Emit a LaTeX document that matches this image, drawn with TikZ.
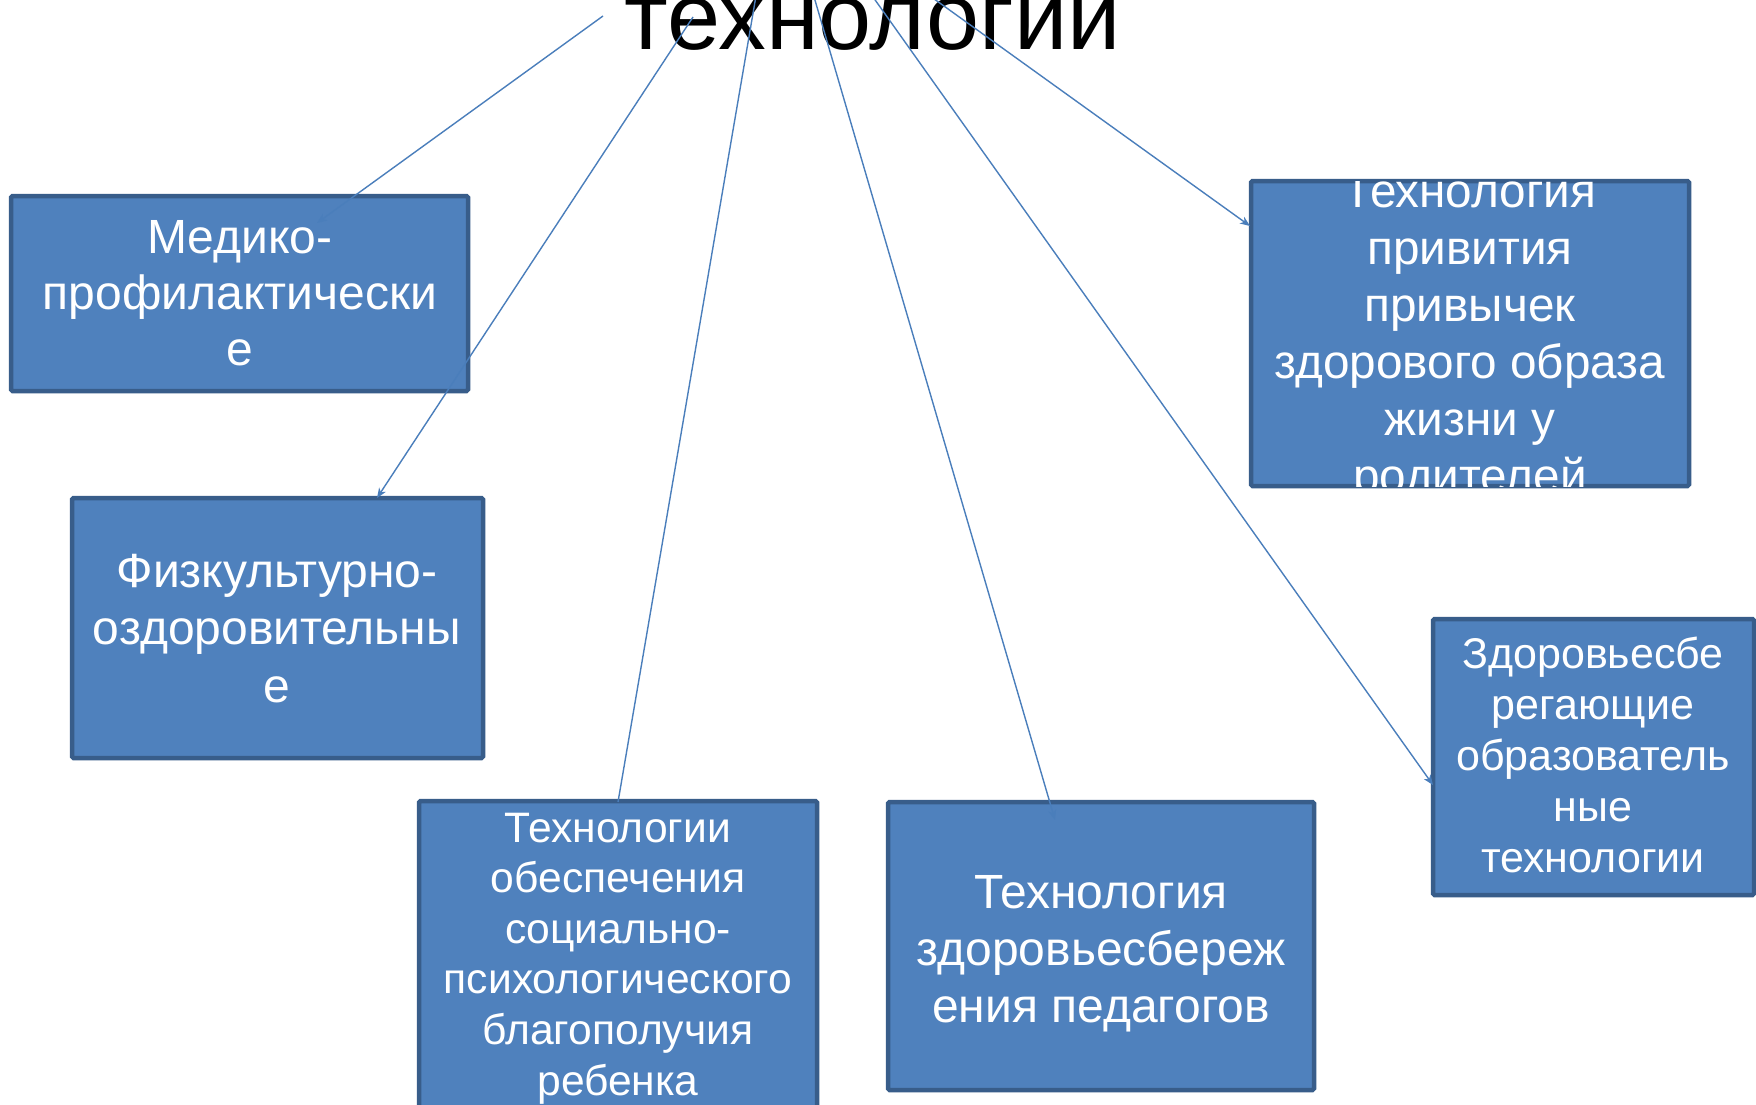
\documentclass[tikz,border=0pt]{standalone}
\usepackage{fontspec}
\setmainfont{Liberation Sans}
\usetikzlibrary{arrows.meta}
\definecolor{boxfill}{HTML}{4F81BD}
\definecolor{boxline}{HTML}{385D8A}
\definecolor{conn}{HTML}{4A7EBB}
\tikzset{
  box/.style={draw=boxline, fill=boxfill, line width=4.5pt, rounded corners=1.5pt, inner sep=0pt},
  boxtext/.style={text=white, align=center, inner sep=0pt, anchor=base},
  conn/.style={draw=conn, line width=1.4pt, -{Stealth[length=10pt,width=8pt,inset=3pt]}},
  connplain/.style={draw=conn, line width=1.4pt}
}
\begin{document}
\begin{tikzpicture}[x=1pt,y=-1pt]
\useasboundingbox (0,0) rectangle (1756,1105);
\fill[white] (0,0) rectangle (1756,1105);
% title
\node[anchor=base, inner sep=0pt, font=\fontsize{95.5}{110}\selectfont] (title) at (873,50) {технологии};
% boxes
\node[box, minimum width=457pt, minimum height=195pt] (b1) at (239.5,293.5) {};
\node[box, minimum width=411pt, minimum height=260pt] (b2) at (277.5,628) {};
\node[box, minimum width=398pt, minimum height=320pt] (b3) at (618,961) {};
\node[box, minimum width=426pt, minimum height=288pt] (b4) at (1101,946) {};
\node[box, minimum width=438pt, minimum height=305pt] (b5) at (1470,333.5) {};
\node[box, minimum width=321pt, minimum height=276pt] (b6) at (1593.5,757) {};
% texts (anchor = baseline of last line)
\node[boxtext, font=\fontsize{48}{56}\selectfont] (t1) at (240,365) {Медико-\\профилактически\\е};
\node[boxtext, font=\fontsize{48}{57.5}\selectfont] (t2) at (277,702) {Физкультурно-\\оздоровительны\\е};
\node[boxtext, font=\fontsize{42.6}{50.6}\selectfont] (t3) at (618,1095) {Технологии\\обеспечения\\социально-\\психологического\\благополучия\\ребенка};
\node[boxtext, font=\fontsize{48}{57}\selectfont] (t4) at (1101,1022) {Технология\\здоровьесбереж\\ения педагогов};
\begin{scope}
\clip (1251,181) rectangle (1689,486);
\node[boxtext, font=\fontsize{47.7}{57}\selectfont] (t5) at (1470,492) {Технология\\привития\\привычек\\здорового образа\\жизни у\\родителей};
\end{scope}
\node[boxtext, font=\fontsize{43}{51}\selectfont] (t6) at (1593,872) {Здоровьесбе\\регающие\\образователь\\ные\\технологии};
% connector end points
\coordinate (s1) at (603,16);   \coordinate (e1) at (317,223);
\coordinate (s2) at (693,17);   \coordinate (e2) at (377,498);
\coordinate (s3) at (757,-10);  \coordinate (e3) at (618,802);
\coordinate (s4) at (812,-10);  \coordinate (e4) at (1055,820);
\coordinate (s5) at (873,-3);   \coordinate (e5) at (1433,785);
\coordinate (s6) at (930,-4);   \coordinate (e6) at (1250,226);
\draw[conn] (s1) -- (e1);
\draw[conn] (s2) -- (e2);
\draw[connplain] (s3) -- (e3);
\draw[conn] (s4) -- (e4);
\draw[conn] (s5) -- (e5);
\draw[conn] (s6) -- (e6);
\end{tikzpicture}
\end{document}
